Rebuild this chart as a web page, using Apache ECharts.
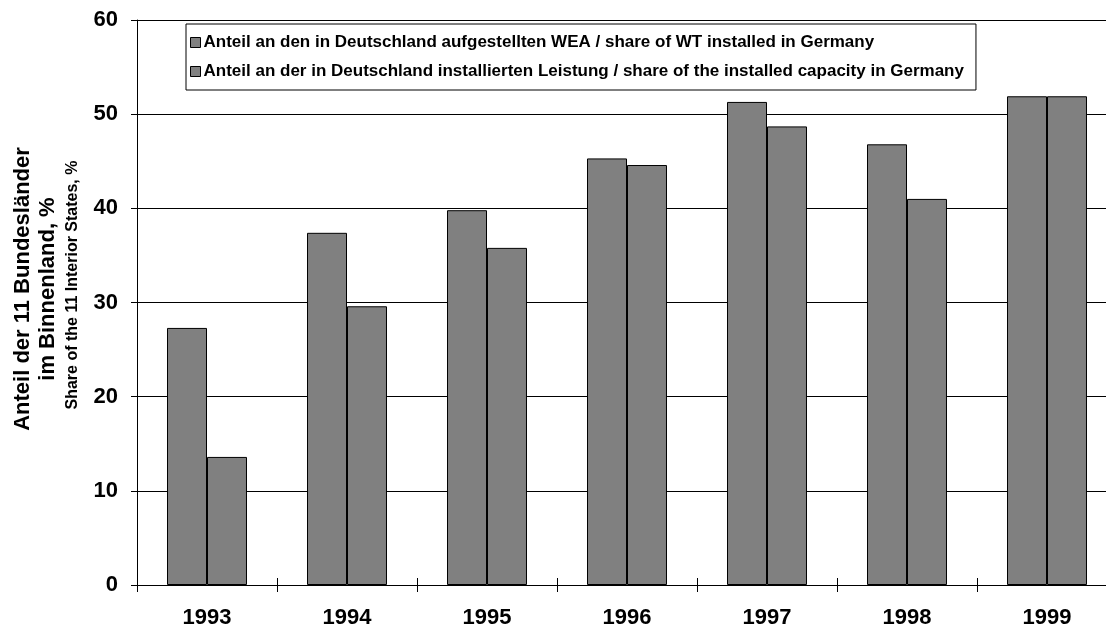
<!DOCTYPE html>
<html>
<head>
<meta charset="utf-8">
<script src="https://cdn.jsdelivr.net/npm/echarts@6/dist/echarts.min.js"></script>
<style>
html,body{margin:0;padding:0;background:#fff;overflow:hidden;width:1106px;height:633px;}
#chart{width:1120px;height:633px;}
</style>
</head>
<body>
<div id="chart"></div>
<script>
const categories = ['1993','1994','1995','1996','1997','1998','1999'];
const seriesNames = [
  'Anteil an den in Deutschland aufgestellten WEA / share of WT installed in Germany',
  'Anteil an der in Deutschland installierten Leistung / share of the installed capacity in Germany'
];
const shareWT = [27.3, 37.4, 39.8, 45.3, 51.3, 46.8, 51.9];
const shareCapacity = [13.6, 29.6, 35.8, 44.6, 48.7, 41.0, 51.9];
const yTitleLines = ['Anteil der 11 Bundesländer', 'im Binnenland, %', 'Share of the 11 Interior States, %'];

const FONT = '"Liberation Sans", Arial, sans-serif';
const chart = echarts.init(document.getElementById('chart'), null, {renderer:'canvas'});
const barStyle = {color:'#808080', borderColor:'#000', borderWidth:1};
chart.setOption({
  animation:false,
  backgroundColor:'#fff',
  grid:{left:137, top:20, width:980, bottom:48, containLabel:false},
  legend:{
    orient:'vertical', left:186, top:24,
    padding:[10,12,10,4], itemGap:12,
    itemWidth:10, itemHeight:10,
    icon:'rect',
    borderColor:'#000', borderWidth:1, backgroundColor:'#fff',
    textStyle:{fontFamily:FONT, fontWeight:'bold', fontSize:17, lineHeight:17, color:'#000', padding:[0,0,0,-2]},
    itemStyle:{borderColor:'#000', borderWidth:1}
  },
  xAxis:[{
    type:'category', data:categories, boundaryGap:true,
    axisLine:{lineStyle:{color:'#000', width:1}},
    axisTick:{show:true, interval:0, length:7, lineStyle:{color:'#000'}},
    axisLabel:{fontFamily:FONT, fontWeight:'bold', fontSize:22, color:'#000', margin:22},
    splitLine:{show:false}
  },{
    type:'category', data:categories, boundaryGap:true, position:'bottom',
    axisLine:{show:false},
    axisTick:{show:true, inside:true, interval:0, length:7, lineStyle:{color:'#000'}},
    axisLabel:{show:false}, splitLine:{show:false}
  }],
  yAxis:{
    type:'value', min:0, max:60, interval:10,
    axisLine:{show:true, lineStyle:{color:'#000', width:1}},
    axisTick:{show:true, length:6, lineStyle:{color:'#000'}},
    axisLabel:{fontFamily:FONT, fontWeight:'bold', fontSize:22, color:'#000', margin:19},
    splitLine:{show:true, lineStyle:{color:'#000', width:1}}
  },
  graphic:[
    {type:'text', x:23, y:289, rotation:Math.PI/2,
     style:{text:yTitleLines[0], fontFamily:FONT, fontWeight:'bold', fontSize:22, fill:'#000', align:'center', verticalAlign:'middle'}},
    {type:'text', x:48, y:289, rotation:Math.PI/2,
     style:{text:yTitleLines[1], fontFamily:FONT, fontWeight:'bold', fontSize:22, fill:'#000', align:'center', verticalAlign:'middle'}},
    {type:'text', x:73, y:285, rotation:Math.PI/2,
     style:{text:yTitleLines[2], fontFamily:FONT, fontWeight:'bold', fontSize:16, fill:'#000', align:'center', verticalAlign:'middle'}}
  ],
  series:[
    {name:seriesNames[0], type:'bar', data:shareWT, barGap:'0%', barCategoryGap:'42.86%', itemStyle:barStyle},
    {name:seriesNames[1], type:'bar', data:shareCapacity, barGap:'0%', barCategoryGap:'42.86%', itemStyle:barStyle}
  ]
});
</script>
</body>
</html>
